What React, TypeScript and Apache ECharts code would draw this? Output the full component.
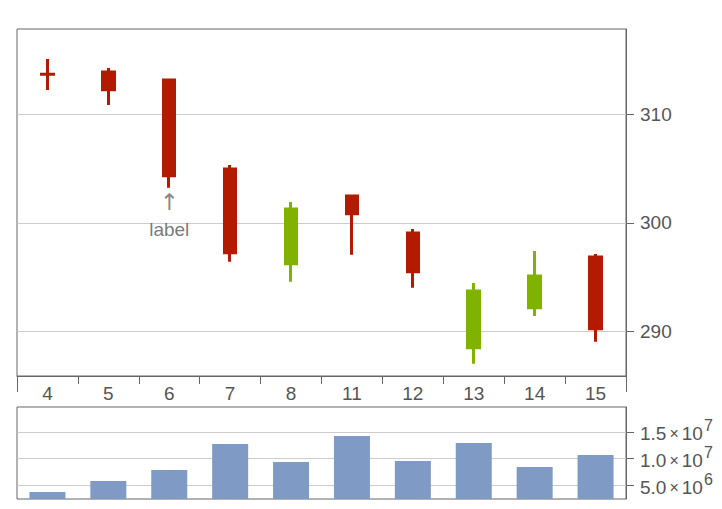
import React, { useEffect, useRef } from 'react';
import * as echarts from 'echarts';

const categories = ['4', '5', '6', '7', '8', '11', '12', '13', '14', '15'];
const opens = [313.7, 313.9, 313.16, 304.96, 296.23, 302.47, 299.06, 288.49, 292.18, 296.85];
const closes = [313.68, 312.25, 304.34, 297.24, 301.27, 300.84, 295.49, 293.71, 295.1, 290.24];
const lows = [312.24, 310.86, 303.24, 296.42, 294.57, 297.06, 294.02, 287.01, 291.41, 289.04];
const highs = [315.1, 314.27, 313.25, 305.33, 301.92, 302.56, 299.43, 294.45, 297.4, 297.12];
const volumes = [3.74e6, 5.81e6, 7.87e6, 1.275e7, 9.37e6, 1.425e7, 9.56e6, 1.294e7, 8.43e6, 1.068e7];
const priceTicks = [290, 300, 310];
const volumeTicks = [5e6, 1e7, 1.5e7];
const volumeTickMantissas = ['5.0', '1.0', '1.5'];
const volumeTickExponents = ['6', '7', '7'];
const annotationIndex = 2;
const annotationText = 'label';

const FONT = '"Liberation Sans", Arial, Helvetica, sans-serif';
const UP = '#80B300';
const DOWN = '#B21B00';
const AXIS = '#666666';
const LABEL = '#555555';
const GRIDLINE = '#cccccc';

export default function App() {
  const ref = useRef<HTMLDivElement>(null);
  useEffect(() => {
    if (!ref.current) return;
    const chart = echarts.init(ref.current, undefined, { renderer: 'svg' });
    const candleData = categories.map((_, i) => [opens[i], closes[i], lows[i], highs[i]]);
    const option: any = {
      animation: false,
      backgroundColor: '#ffffff',
      textStyle: { fontFamily: FONT },
      grid: [
        { left: 17, right: 96, top: 29, bottom: 133, show: true, borderColor: AXIS, borderWidth: 1, containLabel: false },
        { left: 17, right: 96, top: 407, bottom: 10, show: true, borderColor: AXIS, borderWidth: 1, containLabel: false },
      ],
      xAxis: [
        {
          gridIndex: 0,
          type: 'category',
          data: categories,
          boundaryGap: true,
          axisLine: { show: true, lineStyle: { color: AXIS, width: 1 } },
          axisTick: { show: true, length: 8, interval: 0, lineStyle: { color: AXIS } },
          axisLabel: { interval: 0, fontSize: 19, color: LABEL, margin: 8, fontFamily: FONT },
          splitLine: { show: false },
        },
        {
          gridIndex: 1,
          type: 'category',
          data: categories,
          boundaryGap: true,
          show: false,
        },
      ],
      yAxis: [
        {
          gridIndex: 0,
          type: 'value',
          position: 'right',
          min: 285.88,
          max: 317.86,
          axisLine: { show: true, lineStyle: { color: AXIS } },
          axisTick: { show: true, length: 8, customValues: priceTicks, lineStyle: { color: AXIS } },
          axisLabel: { customValues: priceTicks, fontSize: 19, color: LABEL, margin: 14, fontFamily: FONT },
          splitLine: { show: true, lineStyle: { color: GRIDLINE, width: 1 } },
        },
        {
          gridIndex: 1,
          type: 'value',
          position: 'right',
          min: 2.43e6,
          max: 1.969e7,
          axisLine: { show: true, lineStyle: { color: AXIS } },
          axisTick: { show: true, length: 8, customValues: volumeTicks, lineStyle: { color: AXIS } },
          axisLabel: {
            customValues: volumeTicks,
            margin: 14,
            formatter: (v: number) => {
              const i = volumeTicks.findIndex((t) => Math.abs(t - v) < 1);
              if (i < 0) return '';
              return `{n|${volumeTickMantissas[i]}}{x|×}{n|10}{s|${volumeTickExponents[i]}}`;
            },
            rich: {
              n: { fontSize: 19, color: LABEL, fontFamily: FONT, padding: [4, 0, 0, 0] },
              x: { fontSize: 16, color: LABEL, fontFamily: FONT, padding: [4, 3, 0, 3] },
              s: { fontSize: 16, color: LABEL, fontFamily: FONT, padding: [0, 0, 12, 1] },
            },
          },
          splitLine: { show: true, lineStyle: { color: GRIDLINE, width: 1 } },
        },
      ],
      graphic: [
        { type: 'line', shape: { x1: 17.5, y1: 376, x2: 17.5, y2: 392 }, style: { stroke: AXIS, lineWidth: 1 } },
        { type: 'line', shape: { x1: 626.5, y1: 376, x2: 626.5, y2: 392 }, style: { stroke: AXIS, lineWidth: 1 } },
      ],
      series: [
        {
          type: 'candlestick',
          xAxisIndex: 0,
          yAxisIndex: 0,
          data: candleData,
          barWidth: 12,
          itemStyle: {
            color: UP,
            color0: DOWN,
            borderColor: UP,
            borderColor0: DOWN,
            borderWidth: 3,
          },
        },
        {
          type: 'scatter',
          xAxisIndex: 0,
          yAxisIndex: 0,
          data: [[categories[annotationIndex], lows[annotationIndex]]],
          symbolSize: 1,
          itemStyle: { color: 'rgba(0,0,0,0)' },
          label: {
            show: true,
            position: 'bottom',
            distance: 4,
            formatter: `{a|↑}\n{l|${annotationText}}`,
            rich: {
              a: { fontSize: 23, color: AXIS, lineHeight: 20, fontFamily: '"DejaVu Sans", sans-serif' },
              l: { fontSize: 19, color: LABEL, lineHeight: 34, fontFamily: FONT },
            },
          },
        },
        {
          type: 'bar',
          xAxisIndex: 1,
          yAxisIndex: 1,
          data: volumes,
          barWidth: 36,
          itemStyle: { color: '#7F9AC4' },
        },
      ],
    };
    chart.setOption(option);
    return () => chart.dispose();
  }, []);
  return <div ref={ref} style={{ position: 'absolute', left: 0, top: 0, width: 722, height: 509 }} />;
}
